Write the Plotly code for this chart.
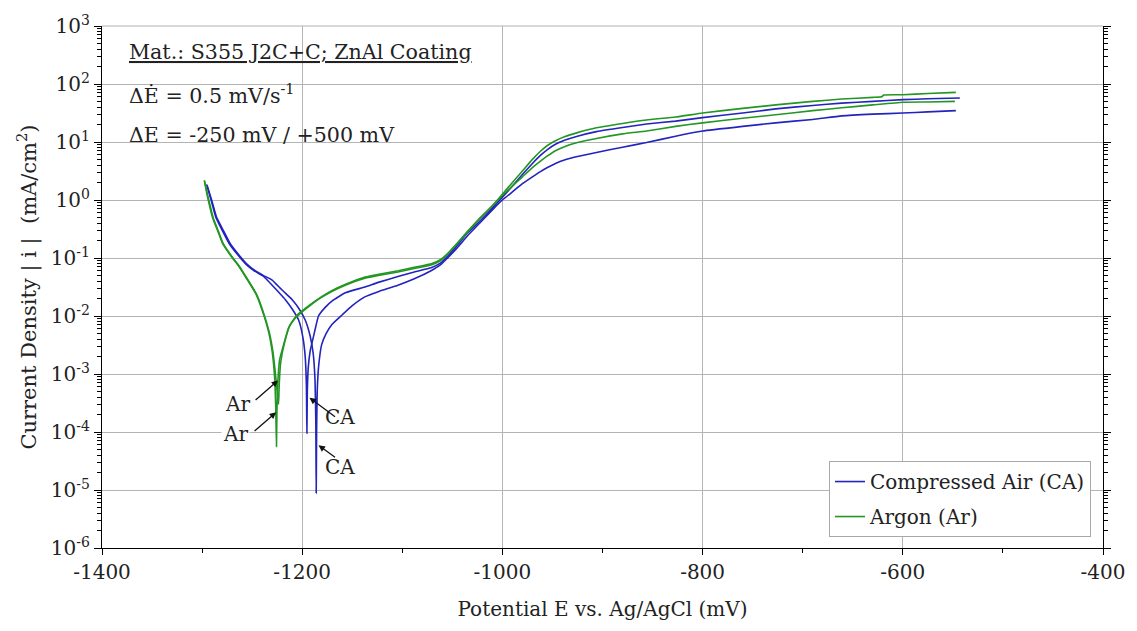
import plotly.graph_objects as go

# ---------------- data ----------------
# Compressed Air, measurement 1
ca1_E = [-1295.5, -1291, -1286.2, -1280, -1273, -1265, -1256.5, -1248, -1240, -1236.7, -1230, -1223,
         -1216.8, -1210, -1203.6, -1199.5, -1197, -1195.8, -1195.3, -1194.9, -1194, -1192, -1188, -1183.7,
         -1177, -1170, -1157, -1137.4, -1124, -1104.4, -1088, -1071.3, -1062, -1054.8, -1045, -1035,
         -1021.6, -1010, -1000, -990, -980, -970, -962, -955, -947, -938, -925, -906, -880, -856, -827,
         -800, -760, -727, -690, -661, -630, -600, -575, -543]
ca1_i = [1.86, 1.0, 0.501, 0.302, 0.178, 0.117, 0.0794, 0.0603, 0.0501, 0.0447, 0.0339, 0.0251, 0.0191,
         0.0132, 0.00851, 0.00447, 0.00200, 0.000631, 9.55e-5, 0.000501, 0.00126, 0.00251, 0.00501, 0.0100,
         0.0141, 0.0182, 0.0251, 0.0316, 0.0380, 0.0479, 0.0575, 0.0676, 0.0813, 0.107, 0.166, 0.269, 0.447,
         0.724, 1.12, 1.74, 2.75, 4.27, 5.89, 7.41, 9.12, 10.7, 12.6, 15.1, 17.8, 20.4, 22.9,
         26.3, 31.6, 37.2, 42.7, 46.8, 50.1, 53.7, 55.6, 57.5]

# Compressed Air, measurement 2
ca2_E = [-1295, -1290.5, -1285.5, -1279, -1272, -1264, -1255.5, -1247, -1239, -1230, -1222, -1216, -1210,
         -1203, -1197, -1192, -1189, -1187.2, -1186.4, -1186.0, -1185.6, -1185, -1183.5, -1180.5, -1176,
         -1170.5, -1160, -1150, -1137.4, -1124, -1104.4, -1088, -1071.3, -1062, -1054.8, -1045, -1035,
         -1021.6, -1010, -1000, -990, -980, -970, -962, -955, -947, -938, -925, -906, -880, -856, -827,
         -800, -760, -727, -690, -661, -630, -600, -575, -547]
ca2_i = [1.78, 1.0, 0.501, 0.302, 0.178, 0.117, 0.0794, 0.0603, 0.0501, 0.0417, 0.0302, 0.0240, 0.0191,
         0.0132, 0.00851, 0.00447, 0.00224, 0.000794, 0.000158, 8.91e-6, 0.0001, 0.000501, 0.00141, 0.00324,
         0.00501, 0.00708, 0.0105, 0.0151, 0.0214, 0.0263, 0.0339, 0.0437, 0.0603, 0.0759, 0.100, 0.151,
         0.240, 0.417, 0.676, 1.0, 1.38, 1.91, 2.51, 3.09, 3.63, 4.27, 4.90, 5.62, 6.61, 8.13, 9.77, 12.6,
         15.5, 18.6, 21.4, 24.5, 28.2, 30.2, 31.6, 33.1, 34.7]

# Argon, measurement 1
ar1_E = [-1297.8, -1294.5, -1289.6, -1284, -1279.6, -1271, -1263, -1255, -1246.5, -1240, -1233.3, -1230,
         -1227.5, -1226.4, -1225.7, -1225.2, -1224.2, -1222.5, -1218.5, -1213.5, -1207, -1198, -1187,
         -1170.5, -1157, -1137.4, -1124, -1104.4, -1088, -1071.3, -1062, -1054.8, -1045, -1035, -1021.6,
         -1010, -1000, -990, -980, -970, -962, -955, -947, -938, -925, -906, -880, -856, -827, -800, -760,
         -727, -690, -661, -630, -621, -619, -600, -575, -547]
ar1_i = [2.19, 1.12, 0.501, 0.282, 0.178, 0.107, 0.0708, 0.0427, 0.0245, 0.0126, 0.00513, 0.00245,
         0.000851, 0.000251, 5.62e-5, 0.000251, 0.000794, 0.00178, 0.00324, 0.00631, 0.00912, 0.0126, 0.0178,
         0.0263, 0.0339, 0.0447, 0.0501, 0.0575, 0.0661, 0.0759, 0.0891, 0.117, 0.178, 0.282, 0.501, 0.794,
         1.26, 2.0, 3.16, 5.01, 6.92, 8.71, 10.5, 12.3, 14.5, 17.6, 20.9, 24.0, 26.9, 31.6, 38.0,
         43.6, 50.1, 55.0, 58.9, 60.3, 64.6, 65.3, 68.4, 71.8]

# Argon, measurement 2
ar2_E = [-1297.5, -1294, -1289, -1283.5, -1279, -1270.5, -1262.5, -1254.5, -1246, -1239.5, -1232.8, -1229.3,
         -1226.3, -1224.5, -1223.6, -1223.0, -1221.5, -1217.5, -1212.5, -1206, -1197, -1186, -1170, -1156,
         -1137, -1123.5, -1104, -1088, -1071, -1062, -1054.5, -1045, -1035, -1021.6, -1010, -1000, -990,
         -980, -970, -962, -955, -947, -938, -925, -906, -880, -856, -827, -800, -760, -727, -690, -661,
         -630, -600, -575, -548]
ar2_i = [2.09, 1.12, 0.501, 0.282, 0.178, 0.107, 0.0708, 0.0427, 0.0245, 0.0126, 0.00513, 0.00245,
         0.000851, 0.000398, 0.000302, 0.000631, 0.00158, 0.00355, 0.00676, 0.0100, 0.0135, 0.0186, 0.0275,
         0.0355, 0.0468, 0.0525, 0.0603, 0.0692, 0.0794, 0.0933, 0.120, 0.182, 0.282, 0.501, 0.794, 1.20,
         1.74, 2.51, 3.63, 4.68, 5.75, 7.08, 8.32, 9.77, 11.5, 13.8, 15.5, 18.6, 21.4, 25.7, 29.5, 34.7,
         38.9, 43.6, 48.4, 49.0, 50.1]

series_names = ["Compressed Air (CA)", "Argon (Ar)"]
x_tickvals = [-1400, -1200, -1000, -800, -600, -400]
x_ticktext = ["-1400", "-1200", "-1000", "-800", "-600", "-400"]
y_exponents = [-6, -5, -4, -3, -2, -1, 0, 1, 2, 3]
y_tickvals = [10.0 ** e for e in y_exponents]
y_ticktext = ["10<sup>%d</sup>" % e for e in y_exponents]
y_minor = [m * 10.0 ** e for e in y_exponents[:-1] for m in range(2, 10)]

BLUE = "rgb(35,35,190)"
GREEN = "rgb(35,150,35)"
FONT = "DejaVu Serif"
TXT = "#222222"
NB = "\u00a0"

fig = go.Figure()
curves = [
    (ca1_E, ca1_i, BLUE, series_names[0], True, "ca"),
    (ca2_E, ca2_i, BLUE, series_names[0], False, "ca"),
    (ar1_E, ar1_i, GREEN, series_names[1], True, "ar"),
    (ar2_E, ar2_i, GREEN, series_names[1], False, "ar"),
]
for E, I, col, name, show, grp in curves:
    fig.add_trace(go.Scatter(x=E, y=I, mode="lines", name=name, showlegend=show,
                             legendgroup=grp, line=dict(color=col, width=1.6, shape="spline",
                                                        smoothing=0.4)))

# white box behind the info text (covers grid lines, below traces)
fig.add_shape(type="rect", xref="paper", yref="paper", x0=0.0129, x1=0.2837, y0=0.7707, y1=0.9914,
              fillcolor="white", line=dict(width=0), layer="between")
# gray top border
fig.add_shape(type="line", xref="paper", yref="paper", x0=0, x1=1, y0=1, y1=1,
              line=dict(color="#b0b0b0", width=1))

info = [
    ("<u>Mat.: S355 J2C+C; ZnAl Coating</u>", 0.951),
    ("ΔĖ = 0.5 mV/s<sup>-1</sup>", 0.869),
    ("ΔE = -250 mV / +500 mV", 0.791),
]
for t, yy in info:
    fig.add_annotation(text=t, xref="paper", yref="paper", x=0.0248, y=yy, xanchor="left",
                       yanchor="middle", showarrow=False, font=dict(family=FONT, size=20.6, color=TXT))

# labels with arrows (x in mV, y in log10 units)
labels = [
    ("Ar", -1264.8, -3.52, -1224.1, -3.11, -24, 21),
    ("Ar", -1266.4, -4.03, -1226.1, -3.66, -23, 20),
    ("CA", -1162.2, -3.74, -1192.7, -3.41, 27, 20),
    ("CA", -1162.2, -4.60, -1183.7, -4.23, 18, 13),
]
for t, tx, ty, hx, hy, ax, ay in labels:
    fig.add_annotation(text=t, x=tx, y=ty, xref="x", yref="y", showarrow=False, bgcolor="white",
                       borderpad=1, font=dict(family=FONT, size=20, color=TXT))
    fig.add_annotation(text="", x=hx, y=hy, xref="x", yref="y", ax=ax, ay=ay, showarrow=True,
                       arrowhead=2, arrowsize=1, arrowwidth=1.3, arrowcolor="#111111")

fig.update_layout(
    width=1137, height=631,
    margin=dict(l=102, r=27, t=22, b=83),
    paper_bgcolor="white", plot_bgcolor="white",
    font=dict(family=FONT, size=20, color=TXT),
    legend=dict(x=0.988, y=0.021, xanchor="right", yanchor="bottom", bgcolor="white",
                bordercolor="#a8a8a8", borderwidth=1, font=dict(family=FONT, size=20, color=TXT),
                tracegroupgap=6),
    xaxis=dict(range=[-1400, -400], tickmode="array", tickvals=x_tickvals, ticktext=x_ticktext,
               showgrid=True, gridcolor="#b4b4b4", gridwidth=1, showline=True, linecolor="black",
               linewidth=1.2, ticks="outside", ticklen=6, tickcolor="black", mirror=False,
               tickfont=dict(family=FONT, size=20, color=TXT), zeroline=False,
               minor=dict(tickmode="linear", tick0=-1300, dtick=200, ticks="outside", ticklen=4,
                          tickcolor="black", showgrid=False),
               title=dict(text="Potential E vs. Ag/AgCl (mV)", standoff=18,
                          font=dict(family=FONT, size=20, color=TXT))),
    yaxis=dict(type="log", range=[-6, 3], tickmode="array", tickvals=y_tickvals, ticktext=y_ticktext,
               showgrid=True, gridcolor="#b4b4b4", gridwidth=1, showline=True, linecolor="black",
               linewidth=1.2, ticks="outside", ticklen=7, tickcolor="black", mirror="ticks",
               tickfont=dict(family=FONT, size=20, color=TXT),
               minor=dict(tickmode="array", tickvals=y_minor, ticks="outside", ticklen=4,
                          tickcolor="black", showgrid=False),
               title=dict(text="Current Density" + NB + "|" + NB + "i" + NB + "|" + NB + NB +
                               "(mA/cm<sup>2</sup>)", standoff=8,
                          font=dict(family=FONT, size=21, color=TXT))),
)

fig.write_html("out.html")
